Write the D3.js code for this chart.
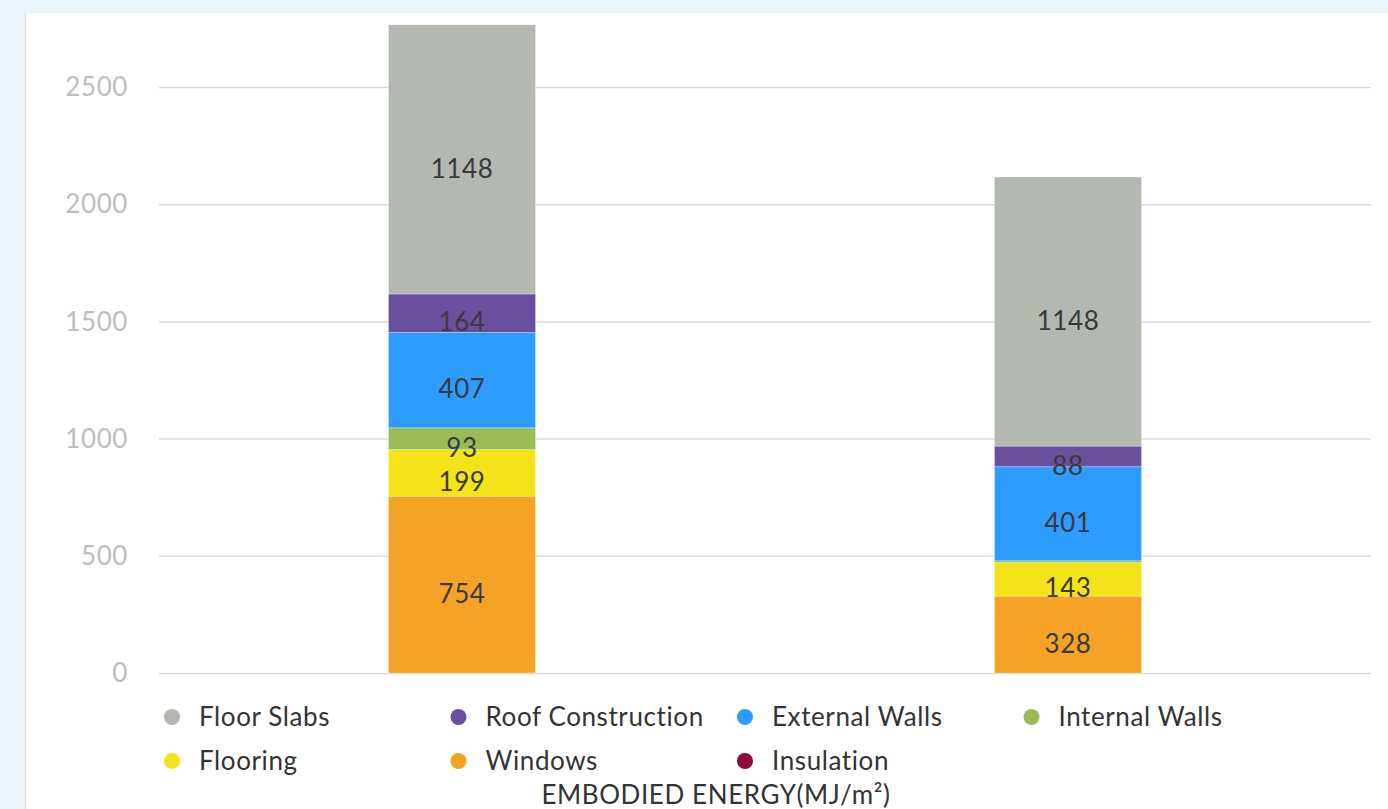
<!DOCTYPE html>
<html>
<head>
<meta charset="utf-8">
<script src="https://cdn.jsdelivr.net/npm/d3@7"></script>
<style>
  html, body { margin: 0; padding: 0; background: #eaf3fa; }
  svg { display: block; font-family: Lato, "Open Sans", sans-serif; }
  svg text { letter-spacing: 0.6px; }
</style>
</head>
<body>
<script>
// chart data
var designs = ["Design 1", "Design 2"];
var seriesNames = ["Floor Slabs", "Roof Construction", "External Walls", "Internal Walls", "Flooring", "Windows", "Insulation"];
var seriesColors = ["#b3b8b1", "#6a4f9e", "#2e9bff", "#9bbb59", "#f5e31a", "#f5a327", "#8b0b3c"];
// stacking order, bottom to top
var stackOrder = ["Windows", "Flooring", "Internal Walls", "External Walls", "Roof Construction", "Floor Slabs", "Insulation"];
var windowsVals = [754, 328];
var flooringVals = [199, 143];
var internalWallsVals = [93, 8];
var externalWallsVals = [407, 401];
var roofVals = [164, 88];
var floorSlabsVals = [1148, 1148];
var insulationVals = [0, 0];
var yTicks = [0, 500, 1000, 1500, 2000, 2500];
var axisTitle = "EMBODIED ENERGY(MJ/m²)";

var valuesBySeries = {
    "Windows": windowsVals,
    "Flooring": flooringVals,
    "Internal Walls": internalWallsVals,
    "External Walls": externalWallsVals,
    "Roof Construction": roofVals,
    "Floor Slabs": floorSlabsVals,
    "Insulation": insulationVals
};

// build rows for d3.stack
var rows = designs.map(function (d, i) {
    var row = {design: d};
    stackOrder.forEach(function (s) { row[s] = valuesBySeries[s][i]; });
    return row;
});

var width = 1388, height = 809;

var svg = d3.select("body").append("svg")
    .attr("width", width)
    .attr("height", height);

// white panel
svg.append("rect")
    .attr("x", 26).attr("y", 13)
    .attr("width", width - 26).attr("height", height - 13)
    .attr("fill", "#fff");
svg.append("line")
    .attr("x1", 25.5).attr("x2", 25.5)
    .attr("y1", 13).attr("y2", height)
    .attr("stroke", "#d3d8dc").attr("stroke-width", 1);

var color = d3.scaleOrdinal().domain(seriesNames).range(seriesColors);

var x = d3.scaleBand()
    .domain(designs)
    .range([159, 1371])
    .paddingInner(0.7574)
    .paddingOuter(0.3787);

var y = d3.scaleLinear()
    .domain([0, 2500])
    .range([673, 87]);

// gridlines + tick labels
var grid = svg.append("g").attr("class", "grid");
grid.selectAll("line")
    .data(yTicks)
    .enter().append("line")
    .attr("x1", 159).attr("x2", 1371)
    .attr("y1", function (d) { return y(d) + 0.5; })
    .attr("y2", function (d) { return y(d) + 0.5; })
    .attr("stroke", "#d9d9d9")
    .attr("stroke-width", 1.5);
grid.selectAll("text")
    .data(yTicks)
    .enter().append("text")
    .attr("x", 128)
    .attr("y", function (d) { return y(d); })
    .attr("dy", "0.35em")
    .attr("text-anchor", "end")
    .attr("fill", "#bdbdbd")
    .style("font-size", "26px")
    .text(function (d) { return d; });

var stacked = d3.stack().keys(stackOrder)(rows);

// bar segments
var layers = svg.append("g").attr("class", "bars")
    .selectAll("g")
    .data(stacked)
    .enter().append("g")
    .attr("fill", function (d) { return color(d.key); });

layers.selectAll("rect")
    .data(function (d) { return d; })
    .enter().append("rect")
    .attr("x", function (d) { return x(d.data.design); })
    .attr("width", x.bandwidth())
    .attr("y", function (d) { return y(d[1]); })
    .attr("height", function (d) { return y(d[0]) - y(d[1]); })
    .attr("stroke", "rgba(255,255,255,0.35)")
    .attr("stroke-width", 0.8);

// value labels
layers.selectAll("text")
    .data(function (d) { return d.filter(function (p) { return p[1] - p[0] >= 50; }); })
    .enter().append("text")
    .attr("x", function (d) { return x(d.data.design) + x.bandwidth() / 2; })
    .attr("y", function (d) { return (y(d[0]) + y(d[1])) / 2 + 9; })
    .attr("dy", "0.35em")
    .attr("text-anchor", "middle")
    .attr("fill", "#3a3a3a")
    .style("font-size", "26px")
    .text(function (d) { return d[1] - d[0]; });

// legend
var legend = svg.append("g").attr("class", "legend")
    .selectAll("g")
    .data(seriesNames)
    .enter().append("g")
    .attr("transform", function (d, i) {
        return "translate(" + (172 + (i % 4) * 286.5) + "," + (717 + Math.floor(i / 4) * 44) + ")";
    });
legend.append("circle")
    .attr("r", 8)
    .attr("fill", function (d) { return color(d); });
legend.append("text")
    .attr("x", 27)
    .attr("dy", "0.35em")
    .attr("fill", "#333")
    .style("font-size", "26px")
    .text(function (d) { return d; });

// axis title
svg.append("text")
    .attr("x", 716)
    .attr("y", 795)
    .attr("dy", "0.35em")
    .attr("text-anchor", "middle")
    .attr("fill", "#333")
    .style("font-size", "26px")
    .text(axisTitle);
</script>
</body>
</html>
